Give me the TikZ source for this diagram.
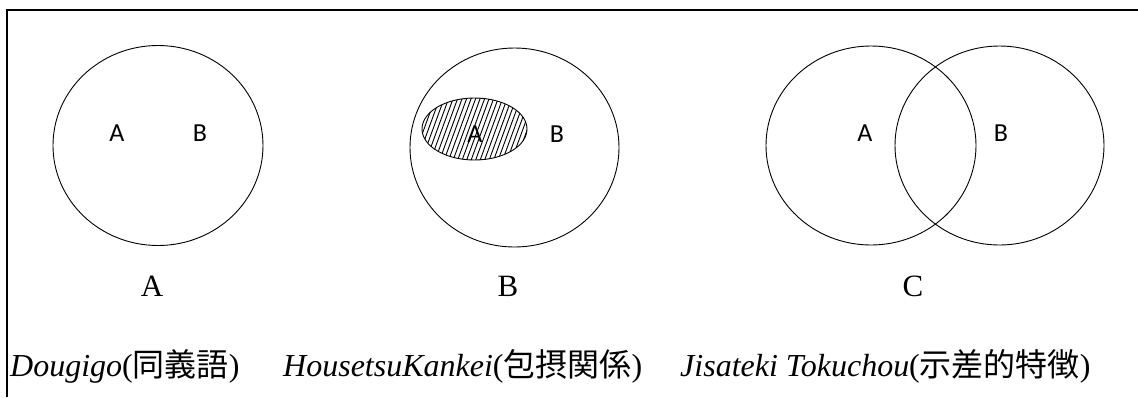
\documentclass[tikz,border=0pt]{standalone}
\usepackage{fontspec}
\setmainfont{Liberation Serif}
\newfontfamily\cjk{Noto Sans CJK JP}
\newfontfamily\lblfont{Carlito}
\begin{document}
\begin{tikzpicture}[x=1pt,y=-1pt,
  venn/.style={line width=0.9pt},
  frameline/.style={line width=1.4pt},
  inlabel/.style={font=\lblfont\fontsize{26}{30}\selectfont, anchor=base, inner sep=0},
  caption/.style={font=\fontsize{31}{35}\selectfont, anchor=base, inner sep=0},
  bottomtext/.style={font=\fontsize{32}{36}\selectfont, anchor=base west, inner sep=0},
  hatch/.style={line width=0.9pt}]
\useasboundingbox (0,0) rectangle (1138,397);
% frame
\coordinate (f0) at (7,397);
\coordinate (f1) at (7,10);
\coordinate (f2) at (1138,10);
\draw[frameline] (f0) -- (f1) -- (f2);
% Panel A
\draw[venn] (158,145.5) ellipse [x radius=105, y radius=100];
\node[inlabel] (a1) at (117,141) {A};
\node[inlabel] (a2) at (200,141) {B};
\node[caption] (capA) at (152,296) {A};
% Panel B
\draw[venn] (514.5,147.5) ellipse [x radius=104.5, y radius=99.5];
\begin{scope}
  \clip (474.5,129) ellipse [x radius=52.5, y radius=31];
  \foreach \i in {-100,-95.5,...,100}
    \draw[hatch] (474.5+\i-15,170) -- (474.5+\i+15,88);
\end{scope}
\draw[venn] (474.5,129) ellipse [x radius=52.5, y radius=31];
\node[inlabel] (b1) at (475,142) {A};
\node[inlabel] (b2) at (557,142) {B};
\node[caption] (capB) at (508,296) {B};
% Panel C
\draw[venn] (871,145.5) ellipse [x radius=105, y radius=99.5];
\draw[venn] (999.5,145.5) ellipse [x radius=104.5, y radius=99.5];
\node[inlabel] (c1) at (865,141) {A};
\node[inlabel] (c2) at (1001,141) {B};
\node[caption] (capC) at (913,296) {C};
% bottom texts
\node[bottomtext] (t1) at (10,376) {\textit{Dougigo}({\cjk 同義語})};
\node[bottomtext] (t2) at (283,376) {\textit{HousetsuKankei}({\cjk 包摂関係})};
\node[bottomtext] (t3) at (680,376) {\textit{Jisateki Tokuchou}({\cjk 示差的特徴})};
\end{tikzpicture}
\end{document}
